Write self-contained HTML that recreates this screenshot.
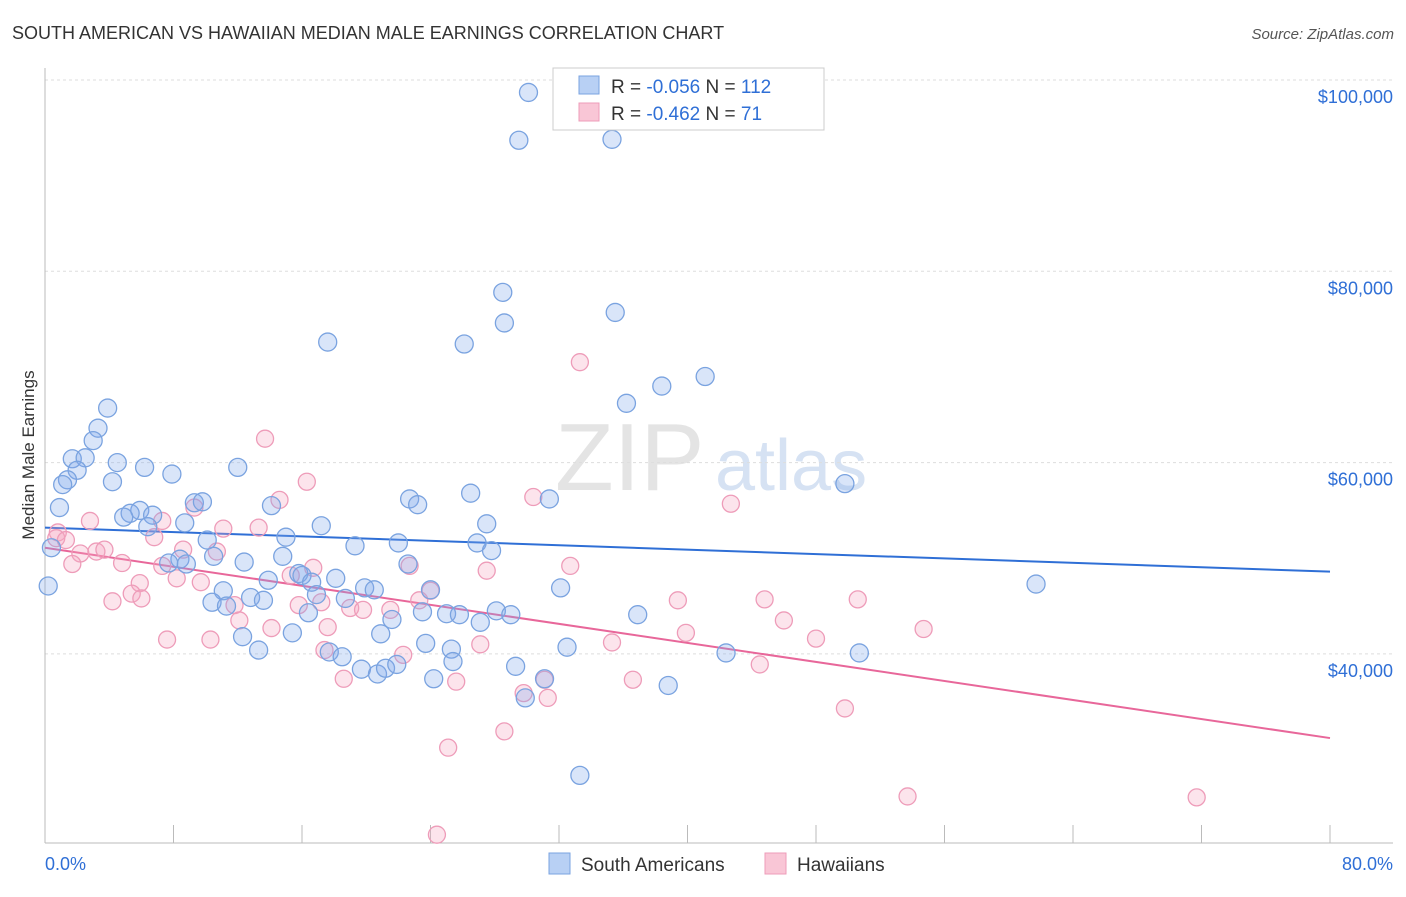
<!DOCTYPE html>
<html><head><meta charset="utf-8">
<style>
body{margin:0;background:#fff;font-family:"Liberation Sans",sans-serif;}
svg text{font-family:"Liberation Sans",sans-serif;}
</style></head>
<body>
<svg id="chart" width="1406" height="892" xmlns="http://www.w3.org/2000/svg">
<text x="12" y="39" font-size="18" fill="#333">SOUTH AMERICAN VS HAWAIIAN MEDIAN MALE EARNINGS CORRELATION CHART</text>
<text x="1394" y="39" font-size="15" fill="#555" text-anchor="end" font-style="italic">Source: ZipAtlas.com</text>
<text x="555" y="490" font-size="96" fill="#e4e4e4" font-family="Liberation Serif">ZIP</text>
<text x="715" y="490" font-size="72" fill="#d6e2f3">atlas</text>
<g id="grid"></g>
<g id="axes"></g>
<g id="lines"></g>
<g id="pts"></g>
<text transform="translate(34,455) rotate(-90)" font-size="17" fill="#333" text-anchor="middle">Median Male Earnings</text>
<g>
<rect x="553" y="68" width="271" height="62" fill="#fff" stroke="#ccc"/>
<rect x="579" y="76" width="20" height="18" fill="#b8d0f4" stroke="#7aa3e0"/>
<rect x="579" y="103" width="20" height="18" fill="#f9c6d6" stroke="#ee9cb9"/>
<text x="611" y="93" font-size="19" fill="#333">R = <tspan fill="#2f6fd6">-0.056</tspan>   N = <tspan fill="#2f6fd6">112</tspan></text>
<text x="611" y="120" font-size="19" fill="#333">R = <tspan fill="#2f6fd6">-0.462</tspan>   N = <tspan fill="#2f6fd6"> 71</tspan></text>
</g>
<g>
<rect x="549" y="853" width="21" height="21" fill="#b8d0f4" stroke="#7aa3e0"/>
<text x="581" y="871" font-size="19" fill="#333">South Americans</text>
<rect x="765" y="853" width="21" height="21" fill="#f9c6d6" stroke="#ee9cb9"/>
<text x="797" y="871" font-size="19" fill="#333">Hawaiians</text>
</g>
<text x="45" y="870" font-size="18" fill="#2f6fd6">0.0%</text>
<text x="1393" y="870" font-size="18" fill="#2f6fd6" text-anchor="end">80.0%</text>
</svg>
<script>
const yTicks=[40000,60000,80000,100000];
const yTickLabels=["$40,000","$60,000","$80,000","$100,000"];
const xTicks=[0,8,16,24,32,40,48,56,64,72,80];
const blueX=[30.1,29.5,35.3,28.5,35.5,28.6,17.6,26.1,41.1,38.4,36.2,3.9,3.3,3.0,1.7,2.5,4.5,2.0,6.2,7.9,12.0,1.4,1.1,4.2,0.9,9.3,9.8,22.7,26.5,31.4,23.2,14.1,5.9,5.3,4.9,6.7,8.7,17.2,27.5,6.4,15.0,22.0,19.3,26.9,0.4,10.1,8.4,7.7,8.8,10.5,12.4,14.8,27.8,22.6,15.8,13.9,16.0,16.6,18.1,0.2,11.1,12.8,13.6,10.4,11.3,16.9,18.7,19.9,20.5,24.0,32.1,16.4,21.6,23.5,25.0,25.8,28.1,29.0,27.1,36.9,12.3,15.4,20.9,13.3,23.7,17.7,18.5,25.3,32.5,42.4,50.7,19.7,20.7,21.2,21.9,25.4,29.3,24.2,31.1,38.8,29.9,33.3,49.8,61.7];
const blueY=[98.7,93.7,93.8,77.8,75.7,74.6,72.6,72.4,69.0,68.0,66.2,65.7,63.6,62.3,60.4,60.5,60.0,59.2,59.5,58.8,59.5,58.2,57.7,58.0,55.3,55.8,55.9,56.2,56.8,56.2,55.6,55.5,55.0,54.7,54.3,54.5,53.7,53.4,53.6,53.3,52.2,51.6,51.3,51.6,51.1,51.9,49.9,49.5,49.4,50.2,49.6,50.2,50.8,49.4,48.4,47.7,48.2,47.5,47.9,47.1,46.6,45.9,45.6,45.4,45.0,46.2,45.8,46.9,46.7,46.7,46.9,44.3,43.6,44.4,44.2,44.1,44.5,44.1,43.3,44.1,41.8,42.2,42.1,40.4,41.1,40.2,39.7,40.5,40.7,40.1,40.1,38.4,37.9,38.5,38.9,39.2,38.7,37.4,37.4,36.7,35.4,27.3,57.8,47.3];
const pinkX=[33.3,13.7,16.3,30.4,42.7,14.6,9.3,2.8,7.3,11.1,13.3,0.8,0.7,6.8,1.3,2.2,3.2,3.7,8.6,10.7,4.8,1.7,7.3,16.7,15.3,8.2,9.7,5.9,5.4,4.2,6.0,11.8,15.8,17.2,19.0,21.5,19.8,23.3,12.1,17.6,14.1,7.6,10.3,27.5,32.7,24.0,22.7,39.4,44.8,50.6,46.0,39.9,48.0,54.7,35.3,27.1,17.4,22.3,18.6,25.6,36.6,44.5,29.8,31.3,31.1,49.8,25.1,28.6,53.7,71.7,24.4];
const pinkY=[70.5,62.5,58.0,56.4,55.7,56.1,55.3,53.9,53.9,53.1,53.2,52.7,52.1,52.2,51.9,50.5,50.7,50.9,50.9,50.7,49.5,49.4,49.2,49.0,48.2,47.9,47.5,47.4,46.3,45.5,45.8,45.1,45.1,45.4,44.8,44.6,44.6,45.6,43.5,42.8,42.7,41.5,41.5,48.7,49.2,46.6,49.2,45.6,45.7,45.7,43.5,42.2,41.6,42.6,41.2,41.0,40.4,39.9,37.4,37.1,37.3,38.9,35.9,35.4,37.3,34.3,30.2,31.9,25.1,25.0,21.1];
const blueTrend=[53.2,48.6];
const pinkTrend=[51.1,31.2];
const NS="http://www.w3.org/2000/svg";
const X=v=>45+v*(1330-45)/80;
const Y=v=>80+(100000-v)*191.3/20000;
const YK=v=>Y(v*1000);
function mk(tag,attrs,parent){const e=document.createElementNS(NS,tag);for(const k in attrs)e.setAttribute(k,attrs[k]);document.getElementById(parent).appendChild(e);return e;}
yTicks.forEach((t,i)=>{
 const l=mk('line',{x1:45,x2:1393,y1:Y(t),y2:Y(t),stroke:'#ddd','stroke-dasharray':'3,3'},'grid');
 
 
 const tx=mk('text',{x:1393,y:Y(t)+23,'font-size':18,fill:'#2f6fd6','text-anchor':'end'},'grid');
 tx.textContent=yTickLabels[i];
 
 
});
const ax=mk('line',{x1:45,x2:45,y1:68,y2:843,stroke:'#bbb'},'axes');


const bx=mk('line',{x1:45,x2:1393,y1:843,y2:843,stroke:'#bbb'},'axes');


xTicks.forEach(t=>{
 const l=mk('line',{x1:X(t),x2:X(t),y1:825,y2:843,stroke:'#bbb'},'axes');
 
 
});
function dots(xs,ys,fill,stroke,r,name){
 xs.forEach((x,i)=>{
  const c=mk('circle',{cx:X(x),cy:YK(ys[i]),r:r,fill:fill,stroke:stroke,'stroke-width':1.3},'pts');
  
  
 });
}
dots(pinkX,pinkY,'rgba(244,164,192,0.3)','#ee9cb9',8.5,'hawaiian-point');
dots(blueX,blueY,'rgba(130,170,235,0.3)','#7aa3e0',9,'south-american-point');
const bl=mk('line',{x1:X(0),y1:YK(blueTrend[0]),x2:X(80),y2:YK(blueTrend[1]),stroke:'#2f6fd6','stroke-width':2},'lines');


const pl=mk('line',{x1:X(0),y1:YK(pinkTrend[0]),x2:X(80),y2:YK(pinkTrend[1]),stroke:'#e8679a','stroke-width':2},'lines');


</script>
</body></html>
